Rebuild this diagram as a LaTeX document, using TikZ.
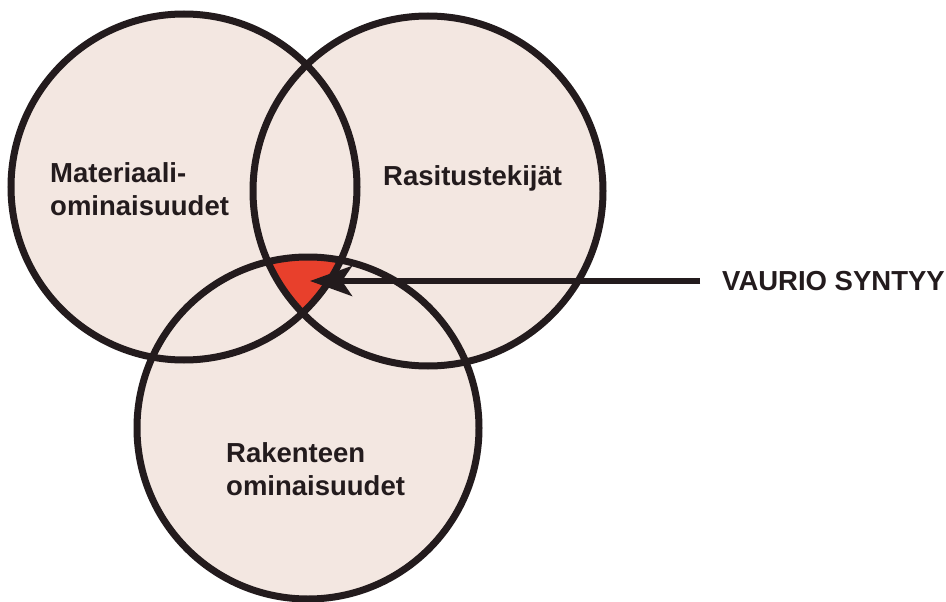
\documentclass[tikz,border=0pt]{standalone}
\usepackage{fontspec}
\setmainfont{Liberation Sans}
\usetikzlibrary{arrows.meta}
\definecolor{vennfill}{HTML}{F3E7E1}
\definecolor{vaurio}{HTML}{E8402C}
\definecolor{ink}{HTML}{231B1D}
\tikzset{
  ring/.style={draw=ink, line width=7pt},
  lbl/.style={font=\bfseries\fontsize{27.5}{32.5}\selectfont, text=ink, align=left, inner sep=0pt},
  pointer/.style={draw=ink, line width=5.5pt, -{Stealth[length=42pt, width=30pt, inset=10pt]}}
}
\begin{document}
\begin{tikzpicture}[x=1pt, y=-1pt]
  \useasboundingbox[fill=white] (0,0) rectangle (946,602);
  \coordinate (mat) at (184,187);
  \coordinate (ras) at (428,191);
  \coordinate (rak) at (308,428);
  \fill[vennfill] (mat) circle (173pt) (ras) circle (175pt) (rak) circle (171pt);
  \begin{scope}
    \clip (mat) circle (173pt);
    \clip (ras) circle (175pt);
    \fill[vaurio] (rak) circle (171pt);
  \end{scope}
  \draw[ring] (mat) circle (173pt);
  \draw[ring] (ras) circle (175pt);
  \draw[ring] (rak) circle (171pt);
  \node[lbl, anchor=base west] (matlbl) at (50,215) {Materiaali-\\ominaisuudet};
  \node[lbl, anchor=base west] (raslbl) at (383,185) {Rasitustekijät};
  \node[lbl, anchor=base west] (raklbl) at (226,495) {Rakenteen\\ominaisuudet};
  \node[lbl, anchor=west, inner xsep=22pt] (syntyy) at (700,281) {VAURIO SYNTYY};
  \coordinate (kohta) at (310,281);
  \draw[pointer] (syntyy.west) -- (kohta);
\end{tikzpicture}
\end{document}
